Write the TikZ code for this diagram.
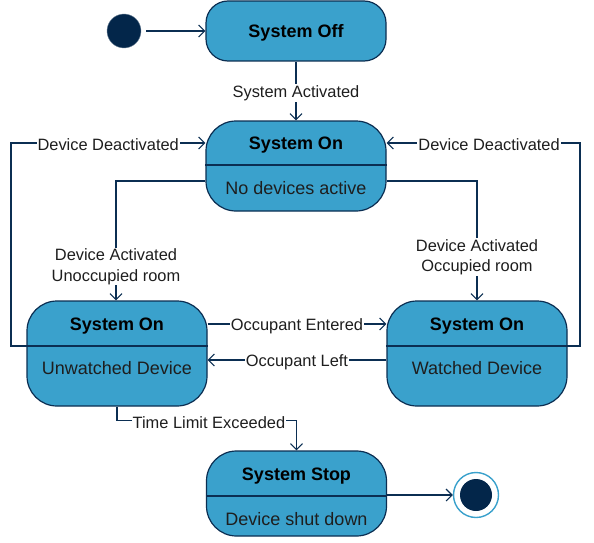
\documentclass[tikz,border=0pt]{standalone}
\usepackage{fontspec}
\setmainfont{Liberation Sans}
\usetikzlibrary{arrows.meta}
\definecolor{fillblue}{HTML}{3AA1CC}
\definecolor{navy}{HTML}{0B2E52}
\definecolor{dotc}{HTML}{03264A}
\definecolor{txt}{HTML}{1E1E1E}
\begin{document}
\begin{tikzpicture}[x=1pt,y=-1pt,
 statebox/.style={draw=navy, line width=1.2pt, fill=fillblue, rounded corners=30pt, minimum width=180pt, inner sep=0pt},
 titletext/.style={font=\fontsize{18}{20}\selectfont\bfseries, text=black, yshift=-2pt},
 bodytext/.style={font=\fontsize{18}{20}\selectfont, text=txt, yshift=-1.5pt},
 lbl/.style={font=\fontsize{16.4}{20.5}\selectfont, fill=white, inner sep=1pt, text=txt, align=center, yshift=-2pt},
 arr/.style={draw=navy, line width=1.1pt, -{Straight Barb[length=6pt,width=12pt]}},
 ln/.style={draw=navy, line width=1.1pt},
]
\useasboundingbox (0,0) rectangle (594,543);

% initial and final
\node[circle, fill=dotc, draw=navy!60, line width=0.4pt, minimum size=34pt, inner sep=0pt] (init) at (124,31) {};
\node[circle, draw=fillblue, line width=1.4pt, fill=white, minimum size=45pt, inner sep=0pt] (final) at (476,495) {};
\node[circle, fill=dotc, minimum size=32pt, inner sep=0pt] (finalin) at (final) {};

% states
\node[statebox, rounded corners=22pt, minimum height=60pt] (off) at (296,31) {};
\node[titletext] (offT) at (off) {System Off};

\node[statebox, minimum height=90pt] (on) at (296,166) {};
\draw[ln] ([yshift=1pt]on.west) -- ([yshift=1pt]on.east);
\node[titletext] (onT) at (296,143) {System On};
\node[bodytext] (onB) at (296,187) {No devices active};

\node[statebox, minimum height=105pt] (unw) at (117,353.5) {};
\draw[ln] ([yshift=7.5pt]unw.west) -- ([yshift=7.5pt]unw.east);
\node[titletext] (unwT) at (117,324) {System On};
\node[bodytext] (unwB) at (117,367) {Unwatched Device};

\node[statebox, minimum height=105pt] (wat) at (477,353.5) {};
\draw[ln] ([yshift=7.5pt]wat.west) -- ([yshift=7.5pt]wat.east);
\node[titletext] (watT) at (477,324) {System On};
\node[bodytext] (watB) at (477,367) {Watched Device};

\node[statebox, minimum height=85pt] (stop) at (296.5,493.5) {};
\draw[ln] ([yshift=-2.5pt]stop.west) -- ([yshift=-2.5pt]stop.east);
\node[titletext] (stopT) at (296.5,474) {System Stop};
\node[bodytext] (stopB) at (296.5,518) {Device shut down};

% connectors
\draw[arr] ([xshift=5pt]init.east) -- (off.west);
\draw[arr] (off.south) -- node[lbl] (l1) {System Activated} (on.north);

\coordinate (onL) at ([yshift=-15pt]on.west);
\coordinate (onR) at ([yshift=-15pt]on.east);
\draw[arr] (onL) -| node[lbl, pos=0.85] (l2) {Device Activated\\Unoccupied room} ([xshift=-1pt]unw.north);
\draw[arr] (onR) -| node[lbl, pos=0.81] (l3) {Device Activated\\Occupied room} (wat.north);

\coordinate (onTL) at ([yshift=23pt]on.west);
\coordinate (onTR) at ([yshift=23pt]on.east);
\coordinate (unwD) at ([yshift=7.5pt]unw.west);
\coordinate (watD) at ([yshift=7.5pt]wat.east);
\coordinate (leftX) at (11,0);
\coordinate (rightX) at (580,0);
\draw[arr] (unwD) -- (leftX |- unwD) |- node[lbl, pos=0.75] (l4) {Device Deactivated} (onTL);
\draw[arr] (watD) -- (rightX |- watD) |- node[lbl, pos=0.735] (l5) {Device Deactivated} (onTR);

\draw[arr] ([yshift=29.5pt]unw.east) -- node[lbl] (l6) {Occupant Entered} ([yshift=29.5pt]wat.west);
\draw[arr] ([yshift=-6.5pt]wat.west) -- node[lbl] (l7) {Occupant Left} ([yshift=-6.5pt]unw.east);

\coordinate (tl) at ([yshift=-14pt]unw.south);
\draw[arr] (unw.south) -- (tl) -| node[lbl, pos=0.256] (l8) {Time Limit Exceeded} (stop.north);

\draw[arr] (stop.east |- final) -- (final.west);
\end{tikzpicture}
\end{document}
